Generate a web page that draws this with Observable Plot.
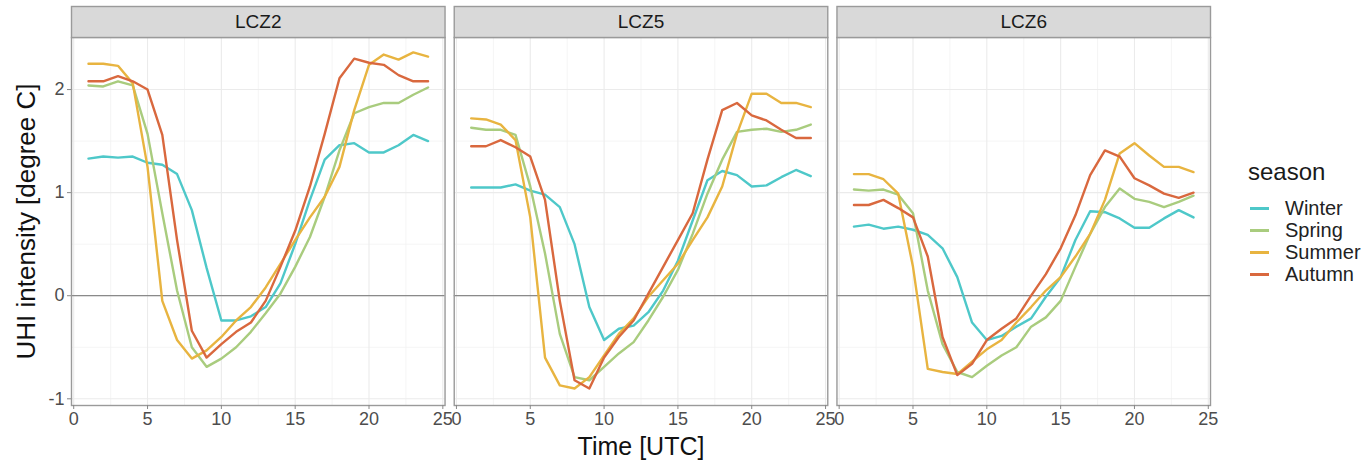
<!DOCTYPE html>
<html>
<head>
<meta charset="utf-8">
<script src="https://cdn.jsdelivr.net/npm/d3@7"></script>
<script src="https://cdn.jsdelivr.net/npm/@observablehq/plot@0.6"></script>
<style>
  body { margin: 0; background: #fff; font-family: "Liberation Sans", Arial, sans-serif; }
  #wrap { position: relative; width: 1368px; height: 463px; }
  #legend { position: absolute; left: 1248px; top: 160px; color: #1a1a1a; }
  #legend .title { font-size: 24px; line-height: 24px; margin-bottom: 13px; }
  #legend .row { display: flex; align-items: center; height: 22px; font-size: 20px; color: #222; }
  #legend .sw { width: 19px; height: 3px; margin-left: 2px; margin-right: 16px; }
</style>
</head>
<body>
<div id="wrap"><div id="chart"></div><div id="legend"></div></div>
<script>
const hours = [1,2,3,4,5,6,7,8,9,10,11,12,13,14,15,16,17,18,19,20,21,22,23,24];
const zones = ["LCZ2", "LCZ5", "LCZ6"];
const seasons = ["Winter", "Spring", "Summer", "Autumn"];
const seasonColors = ["#4ec8c9", "#a9cc7e", "#e8b440", "#d9683e"];

const xMajor = [0, 5, 10, 15, 20, 25];
const xMinor = [2.5, 7.5, 12.5, 17.5, 22.5];
const yMajor = [-1, 0, 1, 2];
const yMinor = [-0.5, 0.5, 1.5];

// LCZ2
const lcz2Winter = [1.33,1.35,1.34,1.35,1.29,1.27,1.18,0.83,0.27,-0.24,-0.24,-0.2,-0.11,0.12,0.5,0.93,1.32,1.46,1.48,1.39,1.39,1.46,1.56,1.5];
const lcz2Spring = [2.04,2.03,2.08,2.04,1.57,0.8,0.05,-0.5,-0.69,-0.61,-0.5,-0.35,-0.17,0.02,0.28,0.57,0.96,1.41,1.77,1.83,1.87,1.87,1.95,2.02];
const lcz2Summer = [2.25,2.25,2.23,2.06,1.25,-0.05,-0.43,-0.61,-0.53,-0.4,-0.24,-0.11,0.08,0.31,0.54,0.76,0.96,1.25,1.8,2.24,2.34,2.29,2.36,2.32];
const lcz2Autumn = [2.08,2.08,2.13,2.08,2.0,1.56,0.54,-0.34,-0.6,-0.47,-0.35,-0.26,-0.05,0.28,0.63,1.06,1.57,2.11,2.3,2.26,2.24,2.14,2.08,2.08];
// LCZ5
const lcz5Winter = [1.05,1.05,1.05,1.08,1.02,0.98,0.86,0.5,-0.11,-0.43,-0.32,-0.29,-0.16,0.05,0.34,0.73,1.12,1.21,1.17,1.06,1.07,1.15,1.22,1.16];
const lcz5Spring = [1.63,1.61,1.61,1.56,1.06,0.41,-0.37,-0.79,-0.82,-0.69,-0.56,-0.45,-0.24,-0.01,0.25,0.6,0.99,1.32,1.59,1.61,1.62,1.59,1.61,1.66];
const lcz5Summer = [1.72,1.71,1.66,1.51,0.76,-0.6,-0.87,-0.9,-0.79,-0.58,-0.37,-0.22,-0.01,0.15,0.31,0.54,0.76,1.06,1.57,1.96,1.96,1.87,1.87,1.83];
const lcz5Autumn = [1.45,1.45,1.51,1.44,1.35,0.93,-0.05,-0.82,-0.9,-0.6,-0.4,-0.24,0.02,0.28,0.54,0.8,1.32,1.8,1.87,1.75,1.7,1.61,1.53,1.53];
// LCZ6
const lcz6Winter = [0.67,0.69,0.65,0.67,0.64,0.59,0.46,0.18,-0.26,-0.43,-0.39,-0.3,-0.22,-0.01,0.18,0.54,0.82,0.81,0.75,0.66,0.66,0.75,0.83,0.76];
const lcz6Spring = [1.03,1.02,1.03,0.98,0.8,0.05,-0.47,-0.74,-0.79,-0.68,-0.58,-0.5,-0.3,-0.21,-0.05,0.28,0.6,0.86,1.04,0.94,0.91,0.86,0.91,0.97];
const lcz6Summer = [1.18,1.18,1.13,0.99,0.28,-0.71,-0.74,-0.76,-0.64,-0.52,-0.43,-0.26,-0.11,0.05,0.18,0.38,0.6,0.93,1.38,1.48,1.36,1.25,1.25,1.2];
const lcz6Autumn = [0.88,0.88,0.93,0.85,0.76,0.38,-0.4,-0.77,-0.66,-0.43,-0.32,-0.22,0.0,0.21,0.46,0.78,1.17,1.41,1.35,1.14,1.07,0.99,0.95,1.0];

const series = {
  LCZ2: [lcz2Winter, lcz2Spring, lcz2Summer, lcz2Autumn],
  LCZ5: [lcz5Winter, lcz5Spring, lcz5Summer, lcz5Autumn],
  LCZ6: [lcz6Winter, lcz6Spring, lcz6Summer, lcz6Autumn]
};
const rows = [];
for (const z of zones) {
  series[z].forEach((vals, si) => {
    vals.forEach((v, i) => rows.push({zone: z, season: seasons[si], hour: hours[i], value: v}));
  });
}

const H = 463, MT = 37, MB = 58, stripH = 31;
const panelH = H - MT - MB;

const chart = Plot.plot({
  width: 1368,
  height: H,
  marginLeft: 71,
  marginRight: 158,
  marginTop: MT,
  marginBottom: MB,
  style: {fontFamily: "'Liberation Sans', Arial, sans-serif", background: "#fff"},
  fx: {domain: zones, axis: null, paddingInner: 0.024, paddingOuter: 0, round: false},
  x: {domain: [-0.15, 25.15]},
  y: {domain: [-1.065, 2.505]},
  color: {domain: seasons, range: seasonColors},
  marks: [
    Plot.ruleX(xMinor, {stroke: "#f3f3f3", strokeWidth: 0.8}),
    Plot.ruleY(yMinor, {stroke: "#f3f3f3", strokeWidth: 0.8}),
    Plot.ruleX(xMajor, {stroke: "#ebebeb", strokeWidth: 1.1}),
    Plot.ruleY(yMajor, {stroke: "#ebebeb", strokeWidth: 1.1}),
    Plot.ruleY([0], {stroke: "#8a8a8a", strokeWidth: 1.3}),
    Plot.line(rows, {fx: "zone", x: "hour", y: "value", z: "season", stroke: "season", strokeWidth: 2.4}),
    Plot.frame({stroke: "#9a9a9a", strokeWidth: 1.4}),
    Plot.frame({fill: "#d9d9d9", stroke: "#9a9a9a", strokeWidth: 1.4, insetTop: -stripH, insetBottom: panelH}),
    Plot.text(zones, {fx: d => d, text: d => d, frameAnchor: "top", lineAnchor: "middle", dy: -stripH / 2, fontSize: 19, fill: "#1a1a1a"}),
    Plot.axisX({ticks: xMajor, tickSize: 4, tickPadding: 3, stroke: "#888", fill: "#4d4d4d", fontSize: 18, label: null, tickFormat: d => String(d)}),
    Plot.axisY({anchor: "left", ticks: yMajor, tickSize: 4, tickPadding: 3, stroke: "#888", fill: "#4d4d4d", fontSize: 18, label: null, tickFormat: d => String(d)}),
    Plot.text(["Time [UTC]"], {fx: () => "LCZ5", text: d => d, frameAnchor: "bottom", lineAnchor: "middle", dy: 41, fontSize: 25, fill: "#111"}),
    Plot.text(["UHI intensity [degree C]"], {fx: () => "LCZ2", text: d => d, frameAnchor: "left", textAnchor: "middle", lineAnchor: "middle", rotate: -90, dx: -45, fontSize: 26, fill: "#111"})
  ]
});
document.getElementById("chart").appendChild(chart);

const legend = document.getElementById("legend");
const t = document.createElement("div");
t.className = "title";
t.textContent = "season";
legend.appendChild(t);
seasons.forEach((s, i) => {
  const row = document.createElement("div");
  row.className = "row";
  const sw = document.createElement("span");
  sw.className = "sw";
  sw.style.background = seasonColors[i];
  const lab = document.createElement("span");
  lab.textContent = s;
  row.appendChild(sw);
  row.appendChild(lab);
  legend.appendChild(row);
});
</script>
</body>
</html>
